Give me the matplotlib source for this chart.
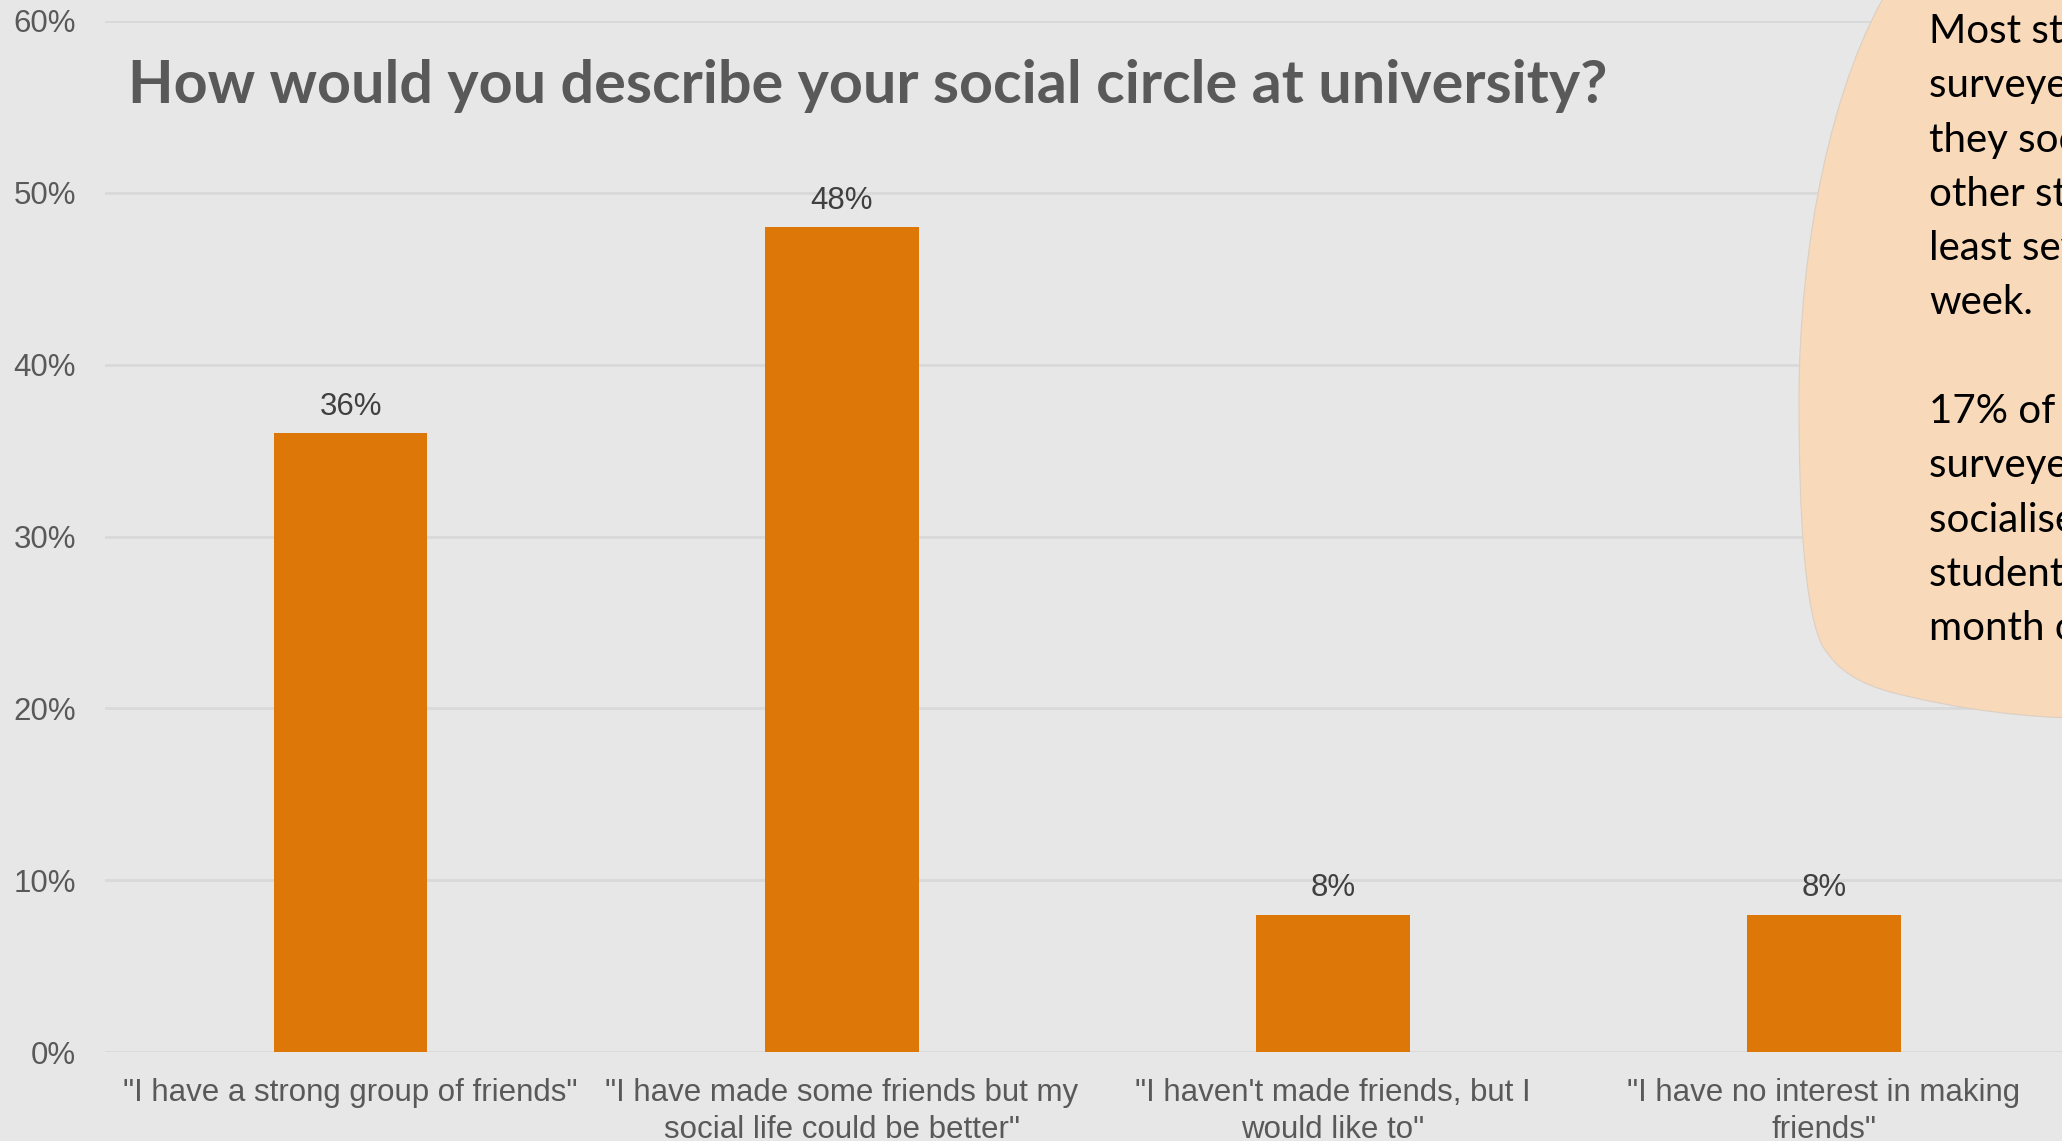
import matplotlib.pyplot as plt
from matplotlib.path import Path
from matplotlib.patches import PathPatch
from matplotlib.ticker import PercentFormatter

# data
categories = ['"I have a strong group of friends"',
              '"I have made some friends but my\nsocial life could be better"',
              '"I haven\'t made friends, but I\nwould like to"',
              '"I have no interest in making\nfriends"']
values = [0.36, 0.48, 0.08, 0.08]
value_labels = ['36%', '48%', '8%', '8%']
y_ticks = [0.0, 0.1, 0.2, 0.3, 0.4, 0.5, 0.6]

title = 'How would you describe your social circle at university?'
note_lines = ['Most students', 'surveyed said', 'they socialise with',
              'other students at', 'least several times a', 'week.', '',
              '17% of students', 'surveyed only', 'socialise with other',
              'students once a', 'month or less.']

W, H = 2062, 1141
bg = '#E7E7E7'
lab_font = 'Liberation Sans'
lab_size = 22.5

fig = plt.figure(figsize=(W / 100, H / 100), dpi=100, facecolor=bg)

ax = fig.add_axes([105 / W, 89 / H, (2069.5 - 105) / W, (1052 - 21) / H])
ax.set_facecolor(bg)
x = list(range(len(categories)))
ax.bar(x, values, width=0.313, color='#DD7808', zorder=2)

# value labels above the bars
for i, v in enumerate(values):
    ax.annotate(value_labels[i], (i, v), xytext=(0, 19), textcoords='offset points',
                ha='center', va='center', fontsize=lab_size, family=lab_font, color='#404040')

ax.set_xlim(-0.5, 3.5)
ax.set_ylim(0, 0.6)
ax.set_yticks(y_ticks)
ax.yaxis.set_major_formatter(PercentFormatter(1.0, decimals=0))
ax.set_xticks(x)
ax.set_xticklabels(categories, linespacing=1.28)
for lab in ax.get_xticklabels() + ax.get_yticklabels():
    lab.set_family(lab_font)
    lab.set_fontsize(lab_size)
    lab.set_color('#595959')
ax.tick_params(axis='both', length=0)
ax.tick_params(axis='y', pad=21)
ax.tick_params(axis='x', pad=19)
for s in ax.spines.values():
    s.set_visible(False)
ax.grid(axis='y', color='#D9D9D9', linewidth=2, zorder=0)
ax.set_axisbelow(True)

# title
fig.text(127.5 / W, 1 - 102.6 / H, title, fontsize=42.7, fontweight='bold',
         family='Lato', color='#595959', ha='left', va='baseline')

# callout bubble (figure pixel coords, y from top)
pts = [(1894, -20),
       (1830, 80), (1799, 250), (1799, 400),
       (1799, 520), (1805, 610), (1822, 645),
       (1838, 672), (1860, 683), (1890, 692),
       (1960, 710), (2030, 718), (2082, 718),
       (2082, -20), (1894, -20)]
codes = [Path.MOVETO] + [Path.CURVE4] * 12 + [Path.LINETO, Path.CLOSEPOLY]
verts = [(px / W, 1 - py / H) for px, py in pts]
bubble = PathPatch(Path(verts, codes), transform=fig.transFigure,
                   facecolor='#F8D9BA', edgecolor='#DCCFC2', linewidth=0.8, zorder=5)
fig.patches.append(bubble)

for i, line in enumerate(note_lines):
    fig.text(1929 / W, 1 - (31.5 + i * 54.3) / H, line, fontsize=29, family='Lato',
             color='black', ha='left', va='center', zorder=6)

fig.savefig('out.png', dpi=100, facecolor=bg)
